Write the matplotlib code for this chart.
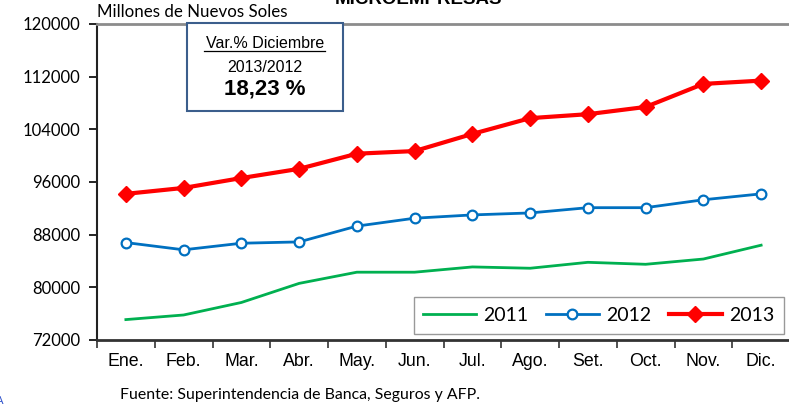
import matplotlib.pyplot as plt
from matplotlib.patches import Rectangle
from matplotlib.lines import Line2D

meses = ["Ene.", "Feb.", "Mar.", "Abr.", "May.", "Jun.",
         "Jul.", "Ago.", "Set.", "Oct.", "Nov.", "Dic."]
v2011 = [75100, 75800, 77700, 80600, 82300, 82300,
         83100, 82900, 83800, 83500, 84300, 86400]
v2012 = [86800, 85700, 86700, 86900, 89300, 90500,
         91000, 91300, 92100, 92100, 93300, 94200]
v2013 = [94200, 95100, 96600, 98000, 100300, 100700,
         103300, 105700, 106300, 107400, 110900, 111400]
yticks = [72000, 80000, 88000, 96000, 104000, 112000, 120000]

W, H = 789, 405
fig = plt.figure(figsize=(W / 100, H / 100), dpi=100)
ax = fig.add_axes([97 / W, 1 - 340 / H, 693 / W, 316 / H])

x = range(len(meses))
l1, = ax.plot(x, v2011, color="#00B050", lw=2, label="2011")
l2, = ax.plot(x, v2012, color="#0070C0", lw=2, marker="o", ms=7,
              mfc="white", mec="#0070C0", mew=1.6, label="2012")
l3, = ax.plot(x, v2013, color="#FF0000", lw=3, marker="D", ms=8,
              mfc="#FF0000", mec="#FF0000", label="2013")

ax.set_xlim(-0.5, 11.5)
ax.set_ylim(72000, 120000)
ax.set_yticks(yticks)
ax.set_yticklabels([str(v) for v in yticks], fontsize=12, family="Lato")
ax.set_xticks(list(x))
ax.set_xticklabels(meses, fontsize=12.8, family="Liberation Sans")
ax.set_xticks([k - 0.5 for k in range(13)], minor=True)
ax.tick_params(axis="x", which="major", length=0, pad=9)
ax.tick_params(axis="x", which="minor", length=6, width=1.2, color="#333333")
ax.tick_params(axis="y", length=6, width=1.2, pad=6)

ax.spines["right"].set_visible(False)
ax.spines["top"].set_color("#8C8C8C")
ax.spines["top"].set_linewidth(2)
ax.spines["left"].set_color("#222222")
ax.spines["left"].set_linewidth(1.5)
ax.spines["bottom"].set_color("#333333")
ax.spines["bottom"].set_linewidth(2)

leg = fig.legend(handles=[l1, l2, l3], loc="center",
                 bbox_to_anchor=(599 / W, 1 - 315.5 / H),
                 ncol=3, fancybox=False, borderpad=0.5,
                 prop={"family": "Lato", "size": 14}, handlelength=2.7,
                 handletextpad=0.4, columnspacing=0.9,
                 edgecolor="#999999", framealpha=1)
leg.get_frame().set_linewidth(1)

# titulo cortado arriba
fig.text(418 / W, 1 - 4 / H, "MICROEMPRESAS", ha="center", va="baseline",
         fontsize=13.5, fontweight="bold", family="Liberation Sans")
fig.text(97 / W, 1 - 12 / H, "Millones de Nuevos Soles", ha="left",
         va="center", fontsize=12.2, family="Lato")
fig.text(120 / W, 1 - 395 / H, "Fuente: Superintendencia de Banca, Seguros y AFP.",
         ha="left", va="center", fontsize=11.4, family="Lato")
fig.text(0, 1 - 401 / H, "A", color="#3355CC", fontsize=8, ha="center", va="center")

# recuadro de variacion
fig.add_artist(Rectangle((187 / W, 1 - 111 / H), 156 / W, 88 / H,
                         transform=fig.transFigure, fill=True, fc="white",
                         ec="#3B5E8C", lw=1.5, zorder=5))
fig.text(265 / W, 1 - 43 / H, "Var.% Diciembre", ha="center", va="center",
         fontsize=11.5, family="Liberation Sans", zorder=6)
fig.add_artist(Line2D([204 / W, 325 / W], [1 - 50.5 / H, 1 - 50.5 / H],
                      transform=fig.transFigure, color="black", lw=0.9, zorder=6))
fig.text(265 / W, 1 - 68 / H, "2013/2012", ha="center", va="center",
         fontsize=11.5, family="Liberation Sans", zorder=6)
fig.text(265 / W, 1 - 89 / H, "18,23 %", ha="center", va="center",
         fontsize=16, fontweight="bold", family="Liberation Sans", zorder=6)

fig.savefig("out.png", dpi=100)
